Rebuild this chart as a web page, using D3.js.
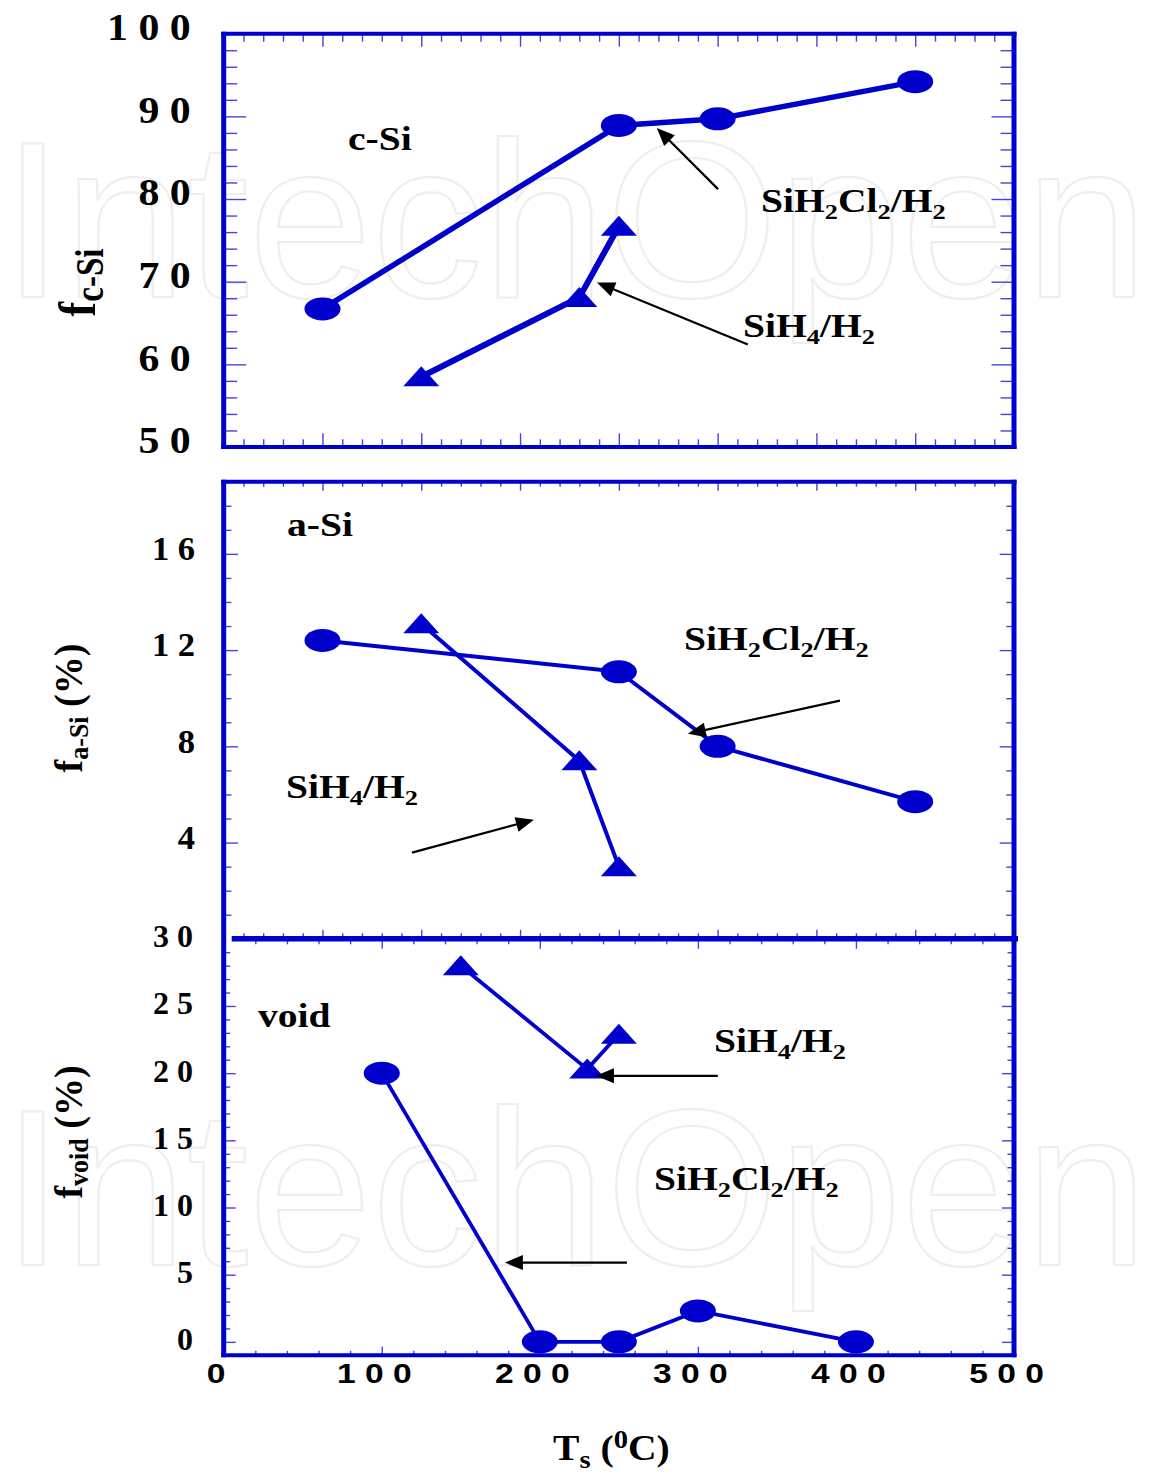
<!DOCTYPE html>
<html>
<head>
<meta charset="utf-8">
<script src="https://cdn.jsdelivr.net/npm/d3@7"></script>
<style>
  body { margin: 0; background: #fff; }
  svg { display: block; }
</style>
</head>
<body>
<svg id="chart" width="1151" height="1476"></svg>
<script>
// ---- data ---------------------------------------------------------------
// upper two panels share one temperature axis
const tsUpperCl = [50, 200, 250, 350];
const tsUpperH4 = [100, 180, 200];
const fcSiCl = [66.7, 88.9, 89.7, 94.2];   // c-Si fraction, SiH2Cl2/H2
const fcSiH4 = [58.5, 68.1, 76.7];         // c-Si fraction, SiH4/H2
const faSiCl = [12.4, 11.1, 8.0, 5.7];     // a-Si fraction (%), SiH2Cl2/H2
const faSiH4 = [13.1, 7.4, 3.0];           // a-Si fraction (%), SiH4/H2
// void panel has its own temperature axis
const tsVoidCl = [100, 200, 250, 300, 400];
const tsVoidH4 = [150, 230, 250];
const fvoidCl = [20.0, 0, 0, 2.3, 0];      // void fraction (%), SiH2Cl2/H2
const fvoidH4 = [28.0, 20.3, 22.9];        // void fraction (%), SiH4/H2

const yTicksC = [50, 60, 70, 80, 90, 100];
const yTicksA = [4, 8, 12, 16];
const yTicksV = [0, 5, 10, 15, 20, 25, 30];
const xTicksVoid = [0, 100, 200, 300, 400, 500];

// annotation arrows, [from, to] in data units of their panel
const arrowsC = [[[250.2, 81.2], [219.2, 88.6]], [[265.3, 62.4], [188.9, 69.9]]];
const arrowsA = [[[311.9, 9.9], [234.9, 8.52]], [[95.3, 3.58], [157.0, 4.95]]];
const arrowsV = [[[312.6, 19.8], [235.5, 19.8]], [[255.1, 5.9], [177.9, 5.9]]];

// ---- setup --------------------------------------------------------------
const svg = d3.select('#chart');
const BLUE = '#0000cc';
const TICK = '#4646d6';
const SERIF = '"Liberation Serif","Times New Roman",serif';
const SANS = '"Liberation Sans",Arial,sans-serif';

const xU = d3.scaleLinear().domain([0, 400]).range([223.7, 1014]);
const xL = d3.scaleLinear().domain([0, 500]).range([223.7, 1014]);
const yC = d3.scaleLinear().domain([50, 100]).range([447, 33.7]);
const yA = d3.scaleLinear().domain([0, 19]).range([938.8, 481.7]);
const yV = d3.scaleLinear().domain([-1, 30]).range([1355.3, 938.8]);

// faint publisher watermark behind the plot
[297, 1265].forEach(base => {
  svg.append('text')
    .attr('x', 2).attr('y', base)
    .attr('font-family', SANS).attr('font-size', 223)
    .attr('textLength', 1146).attr('lengthAdjust', 'spacingAndGlyphs')
    .attr('fill', 'none').attr('stroke', '#eeeeee').attr('stroke-width', 2.2)
    .text('IntechOpen');
});

// ---- ticks --------------------------------------------------------------
function tickSet(axisFn, scale, values, size, transform) {
  svg.append('g')
    .attr('transform', transform)
    .call(axisFn(scale).tickValues(values).tickSize(size).tickSizeOuter(0).tickFormat(''))
    .call(g => g.select('.domain').remove())
    .call(g => g.selectAll('line').attr('stroke', TICK).attr('stroke-width', 1.4));
}
function ticksPair(axisFn, scale, minor, major, sMinor, sMajor, transform) {
  tickSet(axisFn, scale, minor, sMinor, transform);
  tickSet(axisFn, scale, major, sMajor, transform);
}
const split = (arr, step) => [arr.filter(v => v % step !== 0), arr.filter(v => v % step === 0)];

// x ticks
const [uMinor, uMajor] = split(d3.range(10, 400, 10), 50);
const [lMinor, lMajor] = split(d3.range(20, 500, 20), 100);
ticksPair(d3.axisBottom, xU, uMinor, uMajor, 8, 13, `translate(0,${yC(100)})`);
ticksPair(d3.axisTop, xU, uMinor, uMajor, 7.7, 13.7, `translate(0,${yC(50)})`);
ticksPair(d3.axisBottom, xU, uMinor, uMajor, 5, 9, `translate(0,${yA(19)})`);
ticksPair(d3.axisTop, xU, uMinor, uMajor, 5.5, 9, `translate(0,${yA(0)})`);
ticksPair(d3.axisBottom, xL, lMinor, lMajor, 5.5, 10, `translate(0,${yV(30)})`);
ticksPair(d3.axisTop, xL, lMinor, lMajor, 4.5, 8.5, `translate(0,${yV(-1)})`);

// y ticks
const [cMinor, cMajor] = split(d3.range(52, 100, 2), 10);
const [aMinor, aMajor] = split(d3.range(1, 19, 1), 4);
const [vMinor, vMajor] = split(d3.range(0, 30, 1), 5);
[[d3.axisRight, xU(0)], [d3.axisLeft, xU(400)]].forEach(([fn, x]) => {
  ticksPair(fn, yC, cMinor, cMajor, 13.5, 22.5, `translate(${x},0)`);
  ticksPair(fn, yA, aMinor, aMajor, 7.7, 14.3, `translate(${x},0)`);
  ticksPair(fn, yV, vMinor, vMajor, 6.5, 12, `translate(${x},0)`);
});

// ---- frames -------------------------------------------------------------
function seg(x1, y1, x2, y2, w) {
  svg.append('line').attr('x1', x1).attr('y1', y1).attr('x2', x2).attr('y2', y2)
    .attr('stroke', BLUE).attr('stroke-width', w);
}
const X0 = xU(0), X1 = xU(400);
// c-Si panel
seg(X0, yC(100) - 2, X0, yC(50) + 2, 5);
seg(X1, yC(100) - 2, X1, yC(50) + 2, 5);
seg(X0 - 2.5, yC(100), X1 + 2.5, yC(100), 4);
seg(X0 - 2.5, yC(50), X1 + 2.5, yC(50), 4);
// a-Si + void panels
seg(X0, yA(19) - 2, X0, yV(-1) + 2, 5);
seg(X1, yA(19) - 2, X1, yV(-1) + 2, 5);
seg(X0 - 2.5, yA(19), X1 + 2.5, yA(19), 4);
seg(X0 + 8, yA(0), X1 + 4, yA(0), 5.5);
seg(X0 - 2.5, yV(-1), X1 + 2.5, yV(-1), 4);

// ---- series -------------------------------------------------------------
const triPath = 'M0,-10.5L18,9.5L-18,9.5Z';
function series(xs, ys, xs_, ys_, marker, width) {
  const pts = d3.zip(xs, ys);
  svg.append('path')
    .attr('d', d3.line().x(d => xs_(d[0])).y(d => ys_(d[1]))(pts))
    .attr('fill', 'none').attr('stroke', BLUE).attr('stroke-width', width)
    .attr('stroke-linejoin', 'round');
  pts.forEach(d => {
    if (marker === 'circle') {
      svg.append('ellipse').attr('cx', xs_(d[0])).attr('cy', ys_(d[1]))
        .attr('rx', 18).attr('ry', 11.5).attr('fill', BLUE);
    } else {
      svg.append('path').attr('d', triPath)
        .attr('transform', `translate(${xs_(d[0])},${ys_(d[1])})`).attr('fill', BLUE);
    }
  });
}
series(tsUpperCl, fcSiCl, xU, yC, 'circle', 5.5);
series(tsUpperH4, fcSiH4, xU, yC, 'triangle', 6);
series(tsUpperCl, faSiCl, xU, yA, 'circle', 4);
series(tsUpperH4, faSiH4, xU, yA, 'triangle', 4);
series(tsVoidCl, fvoidCl, xL, yV, 'circle', 3.8);
series(tsVoidH4, fvoidH4, xL, yV, 'triangle', 3.8);

// ---- arrows -------------------------------------------------------------
function arrow(a, xs_, ys_) {
  const [x1, y1] = [xs_(a[0][0]), ys_(a[0][1])];
  const [x2, y2] = [xs_(a[1][0]), ys_(a[1][1])];
  const L = Math.hypot(x2 - x1, y2 - y1), ux = (x2 - x1) / L, uy = (y2 - y1) / L;
  const hl = 18, hw = 7.5;
  svg.append('line').attr('x1', x1).attr('y1', y1)
    .attr('x2', x2 - ux * hl * 0.7).attr('y2', y2 - uy * hl * 0.7)
    .attr('stroke', '#000').attr('stroke-width', 2.2);
  const bx = x2 - ux * hl, by = y2 - uy * hl;
  svg.append('path')
    .attr('d', `M${x2},${y2}L${bx - uy * hw},${by + ux * hw}L${bx + uy * hw},${by - ux * hw}Z`)
    .attr('fill', '#000');
}
arrowsC.forEach(a => arrow(a, xU, yC));
arrowsA.forEach(a => arrow(a, xU, yA));
arrowsV.forEach(a => arrow(a, xL, yV));

// ---- text ---------------------------------------------------------------
function richText(x, y, parts, opt) {
  const { size, sx = 1, anchor = 'start', family = SERIF, rotate = 0 } = opt;
  const g = svg.append('g')
    .attr('transform', `translate(${x},${y}) scale(${sx},1)` + (rotate ? ` rotate(${rotate})` : ''));
  const t = g.append('text')
    .attr('font-family', family).attr('font-weight', 'bold')
    .attr('font-size', size).attr('text-anchor', anchor).attr('fill', '#000');
  let shift = 0;
  parts.forEach(p => {
    const target = p.dy || 0;
    t.append('tspan').attr('font-size', p.size || size).attr('dy', target - shift).text(p.t);
    shift = target;
  });
  return t;
}
// digits in a formula become subscripts
function formula(str, subSize, dy) {
  return str.match(/\d+|\D+/g).map(s => /\d/.test(s) ? { t: s, size: subSize, dy } : { t: s });
}
const spaced = v => String(v).split('').join(' ');

// tick labels
yTicksC.forEach(v => richText(190.7, yC(v) + 6.3, [{ t: spaced(v) }], { size: 38, sx: 1.1, anchor: 'end' }));
yTicksA.forEach(v => richText(195, yA(v) + 6.2, [{ t: spaced(v) }], { size: 34.5, anchor: 'end' }));
yTicksV.forEach(v => richText(193, yV(v) + 8.5, [{ t: spaced(v) }], { size: 32, anchor: 'end' }));
xTicksVoid.forEach(v => richText(xL(v) - 7.5, 1383, [{ t: spaced(v) }],
  { size: 28, sx: 1.2, anchor: 'middle', family: SANS }));

// axis titles
richText(95, 282.5, [{ t: 'f' }, { t: 'c-Si', size: 33, dy: 7 }], { size: 44, sx: 1.2, anchor: 'middle', rotate: -90 });
richText(82, 708, [{ t: 'f' }, { t: 'a-Si', size: 26, dy: 6 }, { t: ' (%)' }], { size: 38, sx: 1.05, anchor: 'middle', rotate: -90 });
richText(82, 1132, [{ t: 'f' }, { t: 'void', size: 26, dy: 6 }, { t: ' (%)' }], { size: 38, sx: 1.05, anchor: 'middle', rotate: -90 });
richText(553, 1460, [{ t: 'T' }, { t: 's', size: 26, dy: 8 }, { t: ' (' }, { t: '0', size: 26, dy: -12 }, { t: 'C)' }],
  { size: 36, sx: 1.1 });

// panel and series labels
const lab = { size: 33, sx: 1.2 };
richText(348, 150, [{ t: 'c-Si' }], lab);
richText(761, 212, formula('SiH2Cl2/H2', 22, 7), lab);
richText(743, 337, formula('SiH4/H2', 22, 7), lab);
richText(287, 536, [{ t: 'a-Si' }], lab);
richText(684, 650, formula('SiH2Cl2/H2', 22, 7), lab);
richText(286, 798, formula('SiH4/H2', 22, 7), lab);
richText(258, 1027, [{ t: 'void' }], lab);
richText(714, 1052, formula('SiH4/H2', 22, 7), lab);
richText(654, 1190, formula('SiH2Cl2/H2', 22, 7), lab);
</script>
</body>
</html>
